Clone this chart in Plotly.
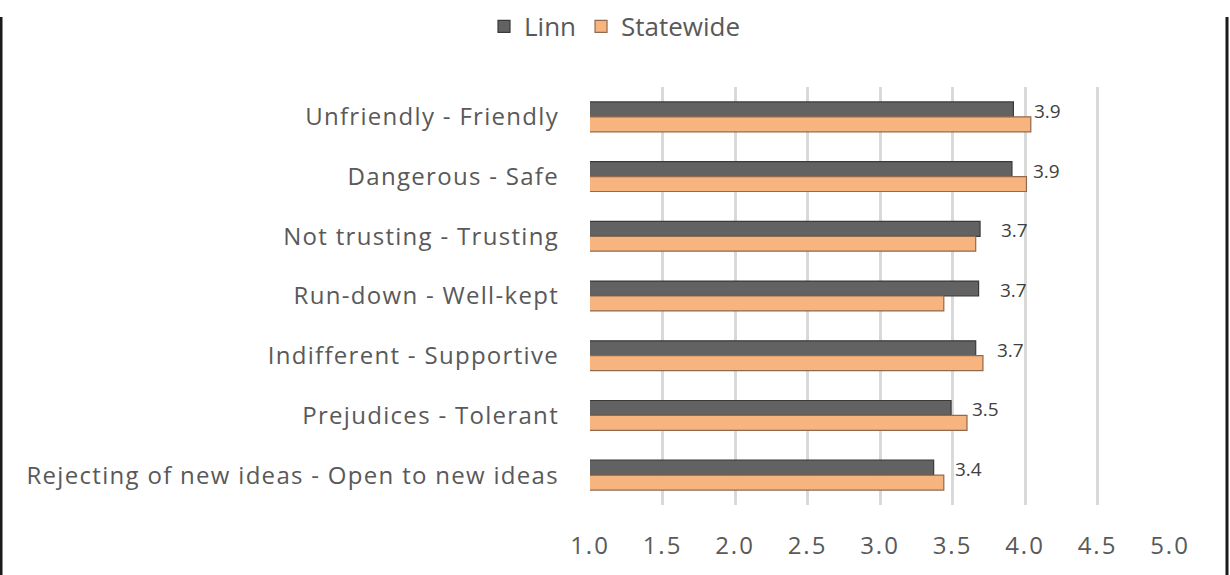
import plotly.graph_objects as go

categories = [
    "Unfriendly - Friendly",
    "Dangerous - Safe",
    "Not trusting - Trusting",
    "Run-down - Well-kept",
    "Indifferent - Supportive",
    "Prejudices - Tolerant",
    "Rejecting of new ideas - Open to new ideas",
]
linn = [3.92, 3.91, 3.69, 3.68, 3.66, 3.49, 3.37]
statewide = [4.04, 4.01, 3.66, 3.44, 3.71, 3.60, 3.44]
x_ticks = [1.0, 1.5, 2.0, 2.5, 3.0, 3.5, 4.0, 4.5, 5.0]

FONT = "'Open Sans', 'Noto Sans', sans-serif"

fig = go.Figure()
fig.add_trace(go.Bar(
    name="Linn", y=categories, x=linn, orientation="h", base=0,
    marker=dict(color="#626262", line=dict(color="#3a3a3a", width=1.2)),
))
fig.add_trace(go.Bar(
    name="Statewide", y=categories, x=statewide, orientation="h", base=0,
    marker=dict(color="#F7B47E", line=dict(color="#8f6a4e", width=1.2)),
))

for c, v in zip(categories, linn):
    fig.add_annotation(
        x=v, y=c, text=f"{v:.1f}", showarrow=False, xanchor="left",
        xshift=19, yshift=6, font=dict(family=FONT, size=19, color="#404040"),
    )

# left/right frame lines
fig.add_shape(type="line", xref="paper", yref="paper",
              x0=-589 / 580, x1=-589 / 580, y0=-70 / 418, y1=488 / 418,
              line=dict(color="#1a1a1a", width=3))
fig.add_shape(type="line", xref="paper", yref="paper",
              x0=1 + 57 / 580, x1=1 + 57 / 580, y0=-70 / 418, y1=488 / 418,
              line=dict(color="#1a1a1a", width=3))

fig.update_layout(
    width=1230, height=575,
    margin=dict(l=590, r=60, t=87, b=70),
    paper_bgcolor="white", plot_bgcolor="white",
    barmode="group", bargap=0.5, bargroupgap=0,
    font=dict(family=FONT, size=24, color="#595959"),
    showlegend=True,
    legend=dict(orientation="h", x=0.5, xref="container", xanchor="center",
                y=0.995, yref="container", yanchor="top",
                font=dict(size=26, color="#595959"),
                itemwidth=30, traceorder="normal"),
    xaxis=dict(range=[1, 5], tickvals=x_ticks, ticktext=[f"{t:.1f}" for t in x_ticks],
               showgrid=True, gridcolor="#d9d9d9", gridwidth=2.5, zeroline=False,
               showline=False, ticks="", ticklabelstandoff=24,
               tickfont=dict(size=24, color="#595959")),
    yaxis=dict(autorange="reversed", showgrid=False, ticks="", showline=False,
               ticklabelstandoff=30, tickfont=dict(size=24, color="#595959")),
)

post = """
document.body.style.margin='0';
document.querySelectorAll('.ytick text').forEach(function(t){t.style.letterSpacing='1.3px';});
document.querySelectorAll('.xtick text').forEach(function(t){t.style.letterSpacing='2px';});
"""
fig.write_html("out.html", post_script=post, config={"displayModeBar": False})
